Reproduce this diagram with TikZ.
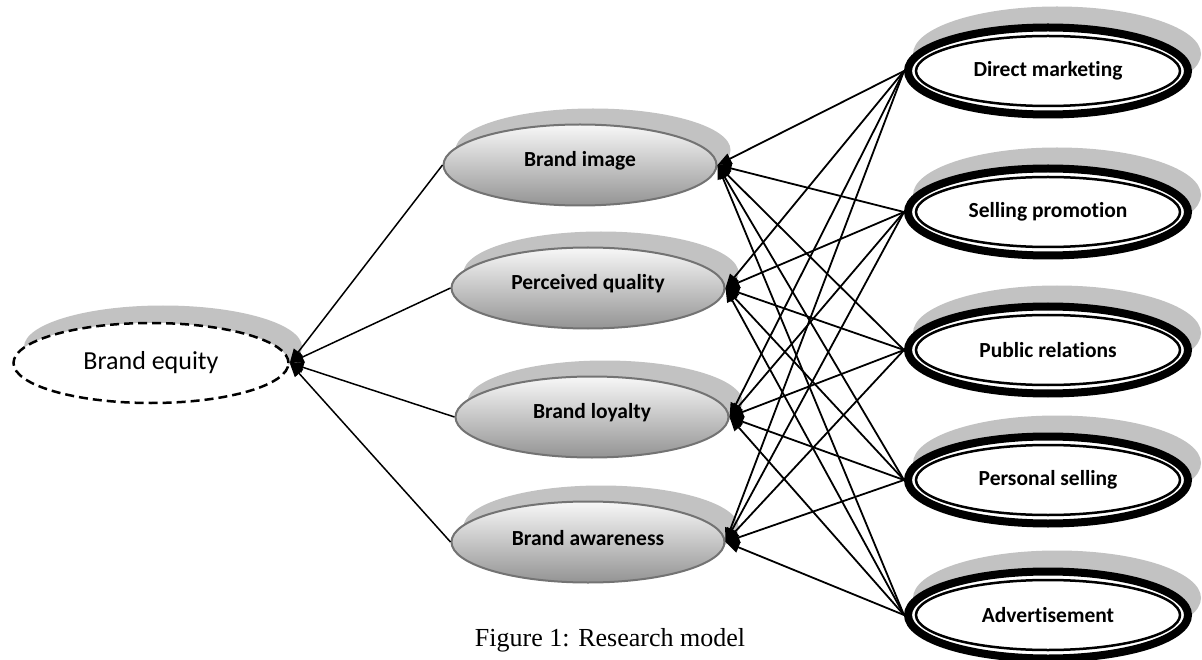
\documentclass[tikz,border=0pt]{standalone}
\usepackage{fontspec}
\setmainfont{Liberation Serif}
\newfontfamily\calfont[Ligatures=NoCommon]{Carlito}
\usetikzlibrary{shapes.geometric,arrows.meta}
\begin{document}
\begin{tikzpicture}[x=1pt,y=-1pt,
  shadowfill/.style={fill=black!24},
  eqbox/.style={ellipse, draw=black, line width=2.5pt, dash pattern=on 9pt off 5pt, fill=white,
    minimum width=275pt, minimum height=80pt, inner sep=0pt, font=\calfont\fontsize{26}{30}\selectfont},
  midbox/.style={ellipse, draw=black!55, line width=2pt, top color=black!3, bottom color=black!42,
    minimum width=273pt, minimum height=81pt, inner sep=0pt, font=\calfont\bfseries\fontsize{21.5}{25}\selectfont},
  toolbox/.style={ellipse, draw=black, line width=8pt, fill=white,
    minimum width=280pt, minimum height=87pt, inner sep=0pt, font=\calfont\bfseries\fontsize{21.5}{25}\selectfont},
  innerring/.style={draw=black, line width=2.5pt},
  leftarrow/.style={line width=1.5pt, -{Triangle[length=14pt,width=11pt]}},
  rightarrow/.style={line width=1.8pt, -{Triangle[length=14pt,width=11pt]}},
  captionstyle/.style={font=\fontsize{26}{30}\selectfont}
]
\useasboundingbox (0,0) rectangle (1202,660);

% shadows
\fill[shadowfill] (163,347) ellipse [x radius=139pt, y radius=41.5pt];
\foreach \cx/\cy in {580/165, 588/288, 592/417, 588/542}
  \fill[shadowfill] (\cx+13,\cy-15) ellipse [x radius=137.5pt, y radius=41.5pt];
\foreach \cy in {71, 212, 350, 480, 615}
  \fill[shadowfill] (1057,\cy-17) ellipse [x radius=144pt, y radius=47.5pt];

% nodes
\node[eqbox] (be) at (151,363) {Brand equity};

\node[midbox] (bi) at (580,165) {\raisebox{4pt}[\height][\depth]{Brand image}};
\node[midbox] (pq) at (588,288) {\raisebox{4pt}[\height][\depth]{Perceived quality}};
\node[midbox] (bl) at (592,417) {\raisebox{4pt}[\height][\depth]{Brand loyalty}};
\node[midbox] (ba) at (588,542) {\raisebox{4pt}[\height][\depth]{Brand awareness}};

\node[toolbox] (dm) at (1048,71) {Direct marketing};
\node[toolbox] (sp) at (1048,212) {Selling promotion};
\node[toolbox] (pr) at (1048,350) {Public relations};
\node[toolbox] (ps) at (1048,480) {Personal selling};
\node[toolbox] (ad) at (1048,615) {Advertisement};

\foreach \n in {dm,sp,pr,ps,ad}
  \draw[innerring] (\n.center) ellipse [x radius=132pt, y radius=35pt];

% connectors middle -> brand equity
\foreach \m in {bi,pq,bl,ba}
  \draw[leftarrow] (\m.west) -- (be.east);

% connectors tools -> middle
\foreach \t in {dm,sp,pr,ps,ad}
  \foreach \m in {bi,pq,bl,ba}
    \draw[rightarrow] (\t.west) -- (\m.east);

\node[captionstyle] (cap) at (610,640) {Figure 1: Research model};
\end{tikzpicture}
\end{document}
